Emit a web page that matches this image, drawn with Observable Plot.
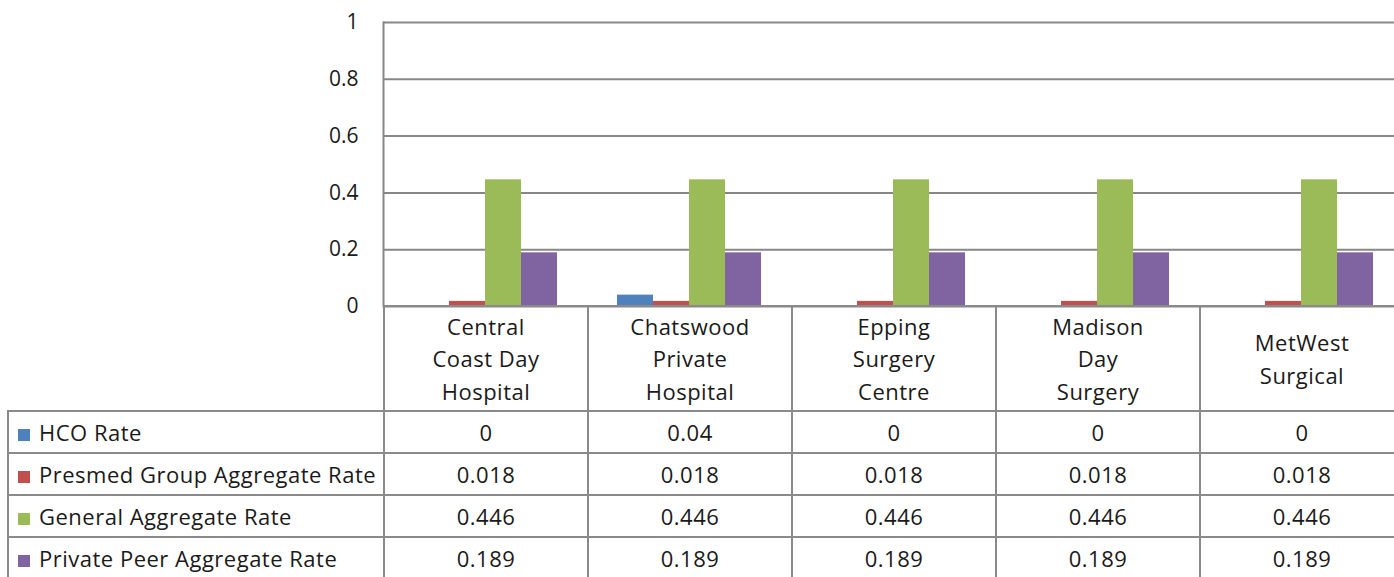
<!DOCTYPE html>
<html><head><meta charset="utf-8">
<script src="https://cdn.jsdelivr.net/npm/d3@7"></script>
<script src="https://cdn.jsdelivr.net/npm/@observablehq/plot@0.6"></script>
<style>
html,body{margin:0;padding:0;background:#fff;overflow:hidden;width:1394px;height:577px;}
#wrap{position:relative;width:1394px;height:577px;overflow:hidden;font-family:"Open Sans",Lato,sans-serif;}
#chart{position:absolute;left:0;top:0;}
#chart svg{max-width:none !important;}
#table{position:absolute;left:7px;top:305px;width:1400px;}
table{border-collapse:collapse;table-layout:fixed;width:1396px;font-size:22px;letter-spacing:0.5px;color:#1a1a1a;font-family:"Open Sans",Lato,sans-serif;}
td{border:2px solid #8a8a8a;padding:0;text-align:center;vertical-align:middle;white-space:nowrap;overflow:hidden;}
tr.head td{height:103px;line-height:32.5px;}
tr.head td.blank{border-top:none;border-left:none;}
tr.data td{height:40px;}
td.name{text-align:left;padding-left:9px;}
.sw{display:inline-block;width:12px;height:12px;margin-right:9px;vertical-align:0px;}
</style></head><body><div id="wrap"><div id="chart"></div><div id="table"></div></div>
<script>
const categories = ["Central Coast Day Hospital","Chatswood Private Hospital","Epping Surgery Centre","Madison Day Surgery","MetWest Surgical"];
const categoryLines = [["Central","Coast Day","Hospital"],["Chatswood","Private","Hospital"],["Epping","Surgery","Centre"],["Madison","Day","Surgery"],["MetWest","Surgical"]];
const series = ["HCO Rate","Presmed Group Aggregate Rate","General Aggregate Rate","Private Peer Aggregate Rate"];
const colors = ["#4F81BD","#C0504D","#9BBB59","#8064A2"];
const hcoRate = [0,0.04,0,0,0];
const presmedRate = [0.018,0.018,0.018,0.018,0.018];
const generalRate = [0.446,0.446,0.446,0.446,0.446];
const privatePeerRate = [0.189,0.189,0.189,0.189,0.189];
const yTicks = [0,0.2,0.4,0.6,0.8,1];

const seriesValues = [hcoRate, presmedRate, generalRate, privatePeerRate];
const data = series.flatMap((s, i) => categories.map((c, j) => ({series: s, category: c, value: seriesValues[i][j]})));

const chart = Plot.plot({
  width: 1403, height: 307,
  marginLeft: 383, marginRight: 0, marginTop: 22, marginBottom: 1,
  style: {fontFamily: "'Open Sans', Lato, sans-serif", color: "#1a1a1a", background: "transparent", overflow: "visible"},
  fx: {domain: categories, padding: 0, axis: null},
  x: {domain: series, paddingInner: 0, paddingOuter: 0.757, axis: null},
  y: {domain: [0, 1], axis: null},
  color: {domain: series, range: colors},
  marks: [
    Plot.ruleY(yTicks, {stroke: "#878787", strokeWidth: 2, strokeOpacity: 1}),
    Plot.barY(data, {fx: "category", x: "series", y: "value", fill: "series"}),
    Plot.frame({anchor: "left", facetAnchor: "left", stroke: "#878787", strokeWidth: 2}),
    Plot.axisY(yTicks, {tickSize: 0, tickPadding: 25, fontSize: 21, fill: "#1a1a1a", label: null, tickFormat: d => String(d), facetAnchor: "left"})
  ]
});
document.getElementById("chart").appendChild(chart);

// data table under the chart
const table = d3.select("#table").append("table");
const cg = table.append("colgroup");
cg.append("col").style("width", "376px");
categories.forEach(() => cg.append("col").style("width", "204px"));
const head = table.append("tr").attr("class", "head");
head.append("td").attr("class", "blank");
categoryLines.forEach(lines => head.append("td").html(lines.join("<br>")));
series.forEach((s, i) => {
  const tr = table.append("tr").attr("class", "data");
  const nameTd = tr.append("td").attr("class", "name");
  nameTd.append("span").attr("class", "sw").style("background", colors[i]);
  nameTd.append("span").text(s);
  seriesValues[i].forEach(v => tr.append("td").text(String(v)));
});
</script>
</body></html>
